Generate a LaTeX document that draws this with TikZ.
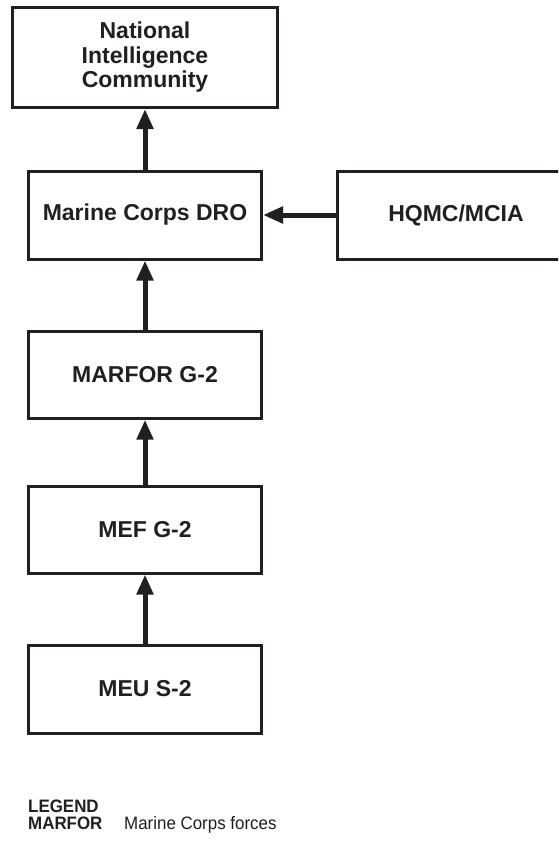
\documentclass[tikz,border=0pt]{standalone}
\usepackage{fontspec}
\setmainfont{Liberation Sans}
\newfontfamily\legendfont[FakeStretch=0.94]{Liberation Sans}
\usetikzlibrary{arrows.meta}
\definecolor{darkline}{RGB}{35,31,32}
\tikzset{
  unit/.style={draw=darkline, line width=3pt, fill=white, text=darkline,
    font=\bfseries\fontsize{23}{24.5}\selectfont, align=center,
    minimum width=233pt, minimum height=88pt, inner sep=0pt},
  feed/.style={-{Triangle[length=20pt,width=16pt]}, line width=5pt, draw=darkline},
  legend/.style={anchor=base west, inner sep=0pt, text=darkline,
    font=\legendfont\fontsize{18}{18}\selectfont}
}
\begin{document}
\begin{tikzpicture}[x=1pt,y=1pt]
  \clip (0,0) rectangle (558,-843);
  \fill[white] (0,0) rectangle (558,-843);
  \node[unit, minimum width=265pt, minimum height=100pt] (nic) at (145,-57.5)
    {National\\Intelligence\\Community};
  \node[unit] (dro) at (145,-215) {Marine Corps DRO};
  \node[unit, minimum width=238pt] (hqmc) at (456,-215) {HQMC/MCIA};
  \node[unit, minimum height=87pt] (marfor) at (145,-374.7) {MARFOR G-2};
  \node[unit, minimum height=87pt] (mef) at (145,-529.5) {MEF G-2};
  \node[unit] (meu) at (145,-689) {MEU S-2};
  \begin{scope}[feed]
    \draw (dro) to (nic);
    \draw (hqmc) to (dro);
    \draw (marfor) to (dro);
    \draw (mef) to (marfor);
    \draw (meu) to (mef);
  \end{scope}
  \node[legend, font=\legendfont\bfseries\fontsize{18}{18}\selectfont] (legtitle) at (28,-812) {LEGEND};
  \node[legend, font=\legendfont\bfseries\fontsize{18}{18}\selectfont] (legterm) at (28,-829) {MARFOR};
  \node[legend] (legtext) at (124,-829) {Marine Corps forces};
\end{tikzpicture}
\end{document}
